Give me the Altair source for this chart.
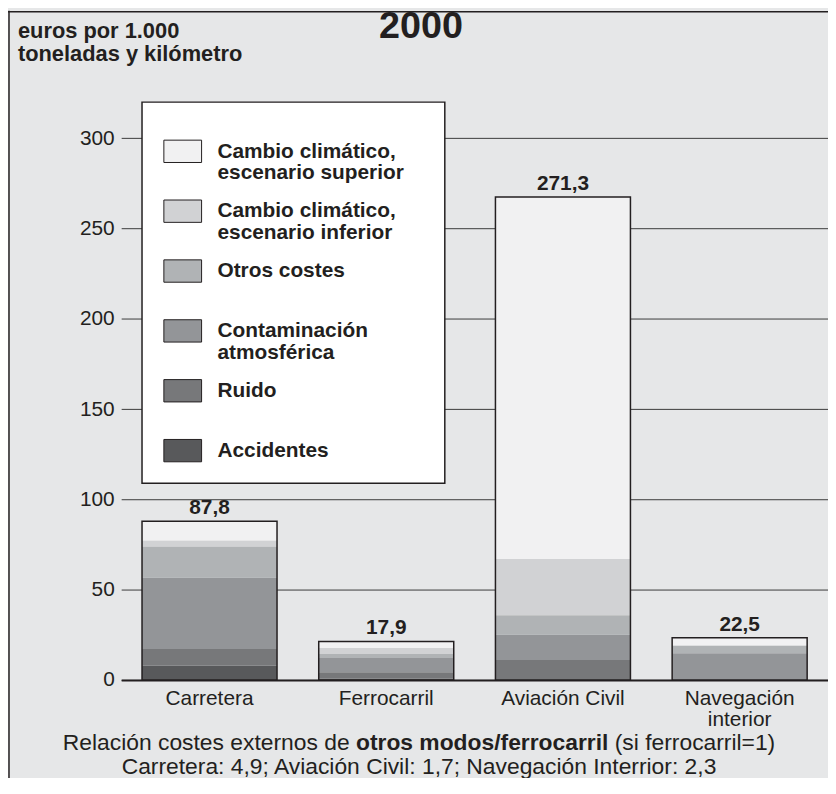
import altair as alt
import pandas as pd

FONT = "Liberation Sans"
DARK = "#231f20"
BG = "#e6e7e8"

categories = ["Carretera", "Ferrocarril", "Aviación Civil", "Navegación interior"]
components = [
    "Accidentes",
    "Ruido",
    "Contaminación atmosférica",
    "Otros costes",
    "Cambio climático, escenario inferior",
    "Cambio climático, escenario superior",
]
colors = ["#58595b", "#77787a", "#939598", "#b0b3b5", "#d1d2d4", "#f1f1f2"]

accidentes = [7.9, 0.6, 0.0, 0.0]
ruido = [9.2, 3.6, 11.0, 0.0]
contaminacion = [39.6, 7.9, 14.2, 14.8]
otros = [17.2, 2.2, 10.6, 4.2]
clima_inferior = [3.3, 3.3, 31.2, 0.0]
clima_superior = [10.7, 3.7, 200.5, 4.4]
value_labels = ["87,8", "17,9", "271,3", "22,5"]
y_ticks = [0, 50, 100, 150, 200, 250, 300]

legend_keys = [
    "Cambio climático, escenario superior",
    "Cambio climático, escenario inferior",
    "Otros costes",
    "Contaminación atmosférica",
    "Ruido",
    "Accidentes",
]
legend_line1 = ["Cambio climático,", "Cambio climático,", "Otros costes", "Contaminación", "Ruido", "Accidentes"]
legend_line2 = ["escenario superior", "escenario inferior", "", "atmosférica", "", ""]

series = [accidentes, ruido, contaminacion, otros, clima_inferior, clima_superior]
rows = []
for ci, comp in enumerate(components):
    for ki, cat in enumerate(categories):
        rows.append({"category": cat, "component": comp, "value": series[ci][ki], "idx": ci})
df = pd.DataFrame(rows)

totals = pd.DataFrame({
    "category": categories,
    "total": [sum(s[k] for s in series) for k in range(len(categories))],
    "label": value_labels,
})
one = pd.DataFrame({"a": [0]})

color_scale = alt.Scale(domain=components, range=colors)
y_scale = alt.Scale(domain=[0, 320], nice=False)
x_scale = alt.Scale(paddingInner=0.236, paddingOuter=0.118)

x_axis = alt.Axis(
    title=None, labelFontSize=21, labelColor=DARK, labelFont=FONT, labelPadding=8,
    ticks=False, domainColor=DARK, domainWidth=2, labelAngle=0, labelLineHeight=21,
    labelExpr="datum.label == 'Navegación interior' ? ['Navegación', 'interior'] : datum.label",
)
y_axis = alt.Axis(
    title=None, values=y_ticks, grid=True, gridColor="#3a3a3a", gridWidth=1,
    ticks=False, domain=False, labelFontSize=21, labelColor=DARK, labelFont=FONT,
    labelPadding=7,
)

X = alt.X("category:N", sort=categories, scale=x_scale, axis=x_axis)

bars = alt.Chart(df).mark_bar().encode(
    x=X,
    y=alt.Y("value:Q", stack="zero", scale=y_scale, axis=y_axis),
    color=alt.Color("component:N", scale=color_scale, legend=None),
    order=alt.Order("idx:Q", sort="ascending"),
)

outline = alt.Chart(totals).mark_bar(fillOpacity=0, stroke=DARK, strokeWidth=1.5).encode(
    x=X,
    y=alt.Y("total:Q", scale=y_scale, axis=y_axis),
)

vlabels = alt.Chart(totals).mark_text(
    baseline="alphabetic", dy=-7, fontSize=21, fontWeight="bold", font=FONT, color=DARK
).encode(
    x=X,
    y=alt.Y("total:Q", scale=y_scale, axis=y_axis),
    text="label:N",
)


def txt(text, x, y, size, bold=False, align="left", baseline="middle"):
    kw = dict(text=text, fontSize=size, font=FONT, color=DARK, align=align, baseline=baseline)
    if bold:
        kw["fontWeight"] = "bold"
    return alt.Chart(one).mark_text(**kw).encode(x=alt.value(x), y=alt.value(y))


layers = [bars, outline, vlabels]

# legend box
layers.append(alt.Chart(one).mark_rect(fill="white", stroke=DARK, strokeWidth=1.5).encode(
    x=alt.value(21), x2=alt.value(326), y=alt.value(0), y2=alt.value(384)))

# legend entries
for i, key in enumerate(legend_keys):
    top = 38.3 + i * 60.3
    col = colors[components.index(key)]
    layers.append(alt.Chart(one).mark_rect(fill=col, stroke=DARK, strokeWidth=1).encode(
        x=alt.value(43), x2=alt.value(81), y=alt.value(top), y2=alt.value(top + 22.5)))
    layers.append(txt(legend_line1[i], 97, top + 11.5, 21, bold=True))
    if legend_line2[i]:
        layers.append(txt(legend_line2[i], 97, top + 33.5, 21, bold=True))

# frame
layers.append(alt.Chart(one).mark_rule(color=DARK, strokeWidth=1.5).encode(
    x=alt.value(-113), y=alt.value(-92), y2=alt.value(690)))
layers.append(alt.Chart(one).mark_rule(color=DARK, strokeWidth=1.5).encode(
    x=alt.value(-114), x2=alt.value(712), y=alt.value(-91)))

# title and y title
layers.append(txt("2000", 302, -65, 38, bold=True, align="center", baseline="alphabetic"))
layers.append(txt("euros por 1.000", -104, -72, 22, bold=True))
layers.append(txt("toneladas y kilómetro", -104, -48, 22, bold=True))

# footer
FS = 23
layers.append(txt("Relación costes externos de", 230.1, 653, FS, align="right", baseline="alphabetic"))
layers.append(txt("otros modos/ferrocarril", 236.5, 653, FS, bold=True, baseline="alphabetic"))
layers.append(txt("(si ferrocarril=1)", 497.2, 653, FS, baseline="alphabetic"))
layers.append(txt("Carretera: 4,9; Aviación Civil: 1,7; Navegación Interrior: 2,3", 300, 677, FS,
                  align="center", baseline="alphabetic"))

chart = alt.layer(*layers).properties(
    width=712, height=582, autosize="none",
    padding={"left": 114, "top": 92, "right": 0, "bottom": 96},
    background=BG,
).configure_view(strokeWidth=0)

chart.save("out.html", embed_options={"renderer": "svg", "actions": False})
